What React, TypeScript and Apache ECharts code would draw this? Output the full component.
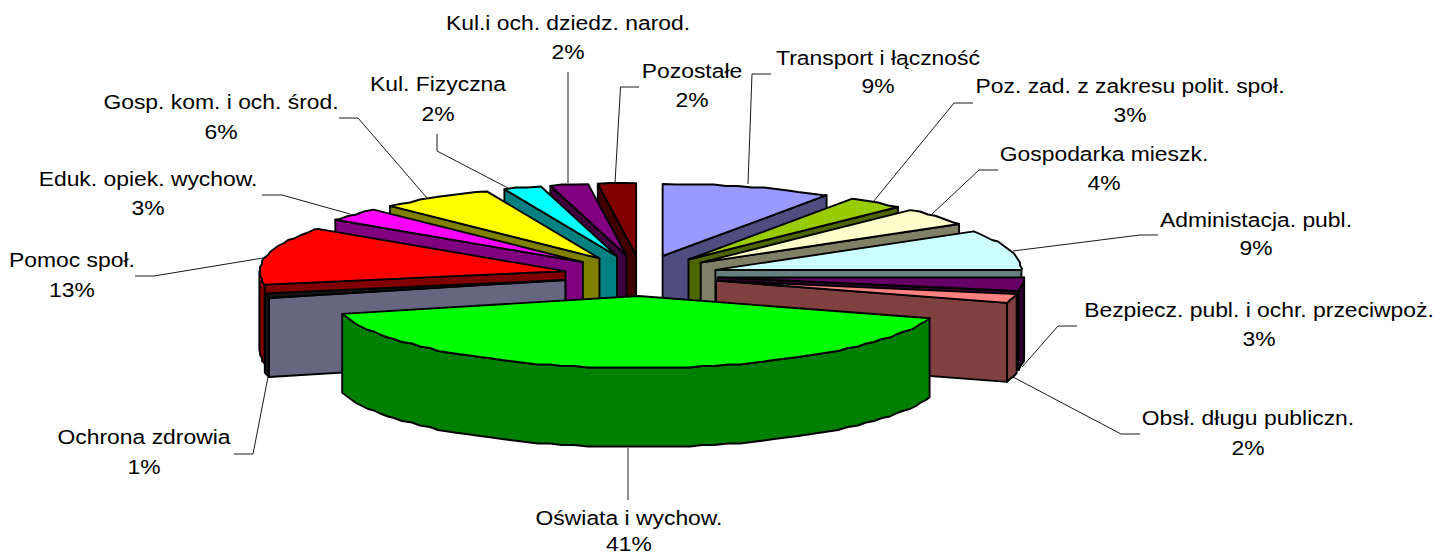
import React, { useEffect, useRef } from "react";
import * as echarts from "echarts";

const names = [
  "Transport i łączność",
  "Poz. zad. z zakresu polit. społ.",
  "Gospodarka mieszk.",
  "Administacja. publ.",
  "Bezpiecz. publ. i ochr. przeciwpoż.",
  "Obsł. długu publiczn.",
  "Oświata i wychow.",
  "Ochrona zdrowia",
  "Pomoc społ.",
  "Eduk. opiek. wychow.",
  "Gosp. kom. i och. środ.",
  "Kul. Fizyczna",
  "Kul.i och. dziedz. narod.",
  "Pozostałe",
];
const values = [9, 3, 4, 9, 3, 2, 41, 1, 13, 3, 6, 2, 2, 2];
const topColors = ["#9999FF", "#99CC00", "#FFFFCC", "#CCFFFF", "#660066", "#FF8080", "#00FF00", "#141414", "#FF0000", "#FF00FF", "#FFFF00", "#00FFFF", "#800080", "#800000"];
const wallColors = ["#4D4D80", "#4D6600", "#808066", "#668080", "#330033", "#804040", "#008000", "#666680", "#800000", "#800080", "#808000", "#008080", "#400040", "#400000"];
const outerColors = ["#4D4D80", "#4D6600", "#808066", "#668080", "#330033", "#804040", "#008000", "#141414", "#800000", "#800080", "#808000", "#008080", "#400040", "#400000"];
const drawOrder = [13, 12, 11, 10, 9, 8, 7, 0, 1, 2, 3, 4, 5, 6];

// [label centre x, name line y, percent line y] per slice
const labelPos = [
  [878, 57.5, 86], [1130, 85.7, 114.7], [1104, 154, 183], [1256, 220, 248], [1259, 309.6, 339], [1248, 418, 447.5], [629, 518, 544],
  [144, 436.7, 467], [72, 260, 289.5], [148, 179, 207.5], [221, 101.7, 131.5], [438, 84, 114], [568, 22.5, 52], [692, 70.5, 100],
];
// leader polylines per slice
const leaders = [
  [[748, 184], [752, 74], [771, 74]],
  [[873, 202], [954, 103], [973, 103]],
  [[932, 214], [979, 170], [998, 170]],
  [[1013, 251], [1140, 235], [1158, 235]],
  [[1022, 367], [1058, 326], [1077, 326]],
  [[1013, 377], [1121, 434], [1140, 434]],
  [[628, 448], [628, 500]],
  [[268, 377], [253, 454], [234, 454]],
  [[263, 258], [154, 276], [135, 276]],
  [[350, 214], [282, 195], [262, 195]],
  [[427, 198], [358, 118], [339, 118]],
  [[508, 188], [437, 151], [437, 134]],
  [[568, 183], [568, 72]],
  [[615, 183], [620.5, 87], [639, 87]],
];

const CX = 641, CY = 275.6, RX = 306, RY = 72, EX = 77.5, EY = 20.4, DEPTH = 79;
const total = values.reduce((a, b) => a + b, 0);
const rad = (d: number) => (d * Math.PI) / 180;

function App() {
  const ref = useRef<HTMLDivElement>(null);
  useEffect(() => {
    const chart = echarts.init(ref.current!, undefined, { renderer: "svg" });
    const spans: number[][] = [];
    let acc = 0;
    values.forEach((v) => {
      const a0 = (acc / total) * 360;
      acc += v;
      spans.push([a0, (acc / total) * 360]);
    });
    const renderItem = (params: any) => {
      const i = drawOrder[params.dataIndex];
      const [a0, a1] = spans[i];
      const mid = rad((a0 + a1) / 2);
      const tx = CX + EX * Math.sin(mid);
      const ty = CY - EY * Math.cos(mid);
      const pt = (deg: number) => [tx + RX * Math.sin(rad(deg)), ty - RY * Math.cos(rad(deg))];
      const arc = (s: number, e: number) => {
        const pts: number[][] = [pt(s)];
        const step = 2.4;
        let d = Math.ceil(s / step + 0.3) * step;
        for (; d < e - 0.5; d += step) {
          const p = pt(d);
          pts.push([Math.round(p[0] / 2) * 2, Math.round(p[1] / 1.5) * 1.5]);
        }
        pts.push(pt(e));
        return pts;
      };
      const down = (p: number[]) => [p[0], p[1] + DEPTH];
      const style = (fill: string) => ({ fill, stroke: "#000", lineWidth: 1.9, lineJoin: "round" });
      const children: any[] = [];
      const poly = (pts: number[][], fill: string) =>
        children.push({ type: "polygon", shape: { points: pts }, style: style(fill) });
      const tip = [tx, ty];
      if (a1 <= 180) {
        const e = pt(a1);
        poly([tip, e, down(e), down(tip)], wallColors[i]);
      }
      if (a0 >= 180) {
        const e = pt(a0);
        poly([tip, e, down(e), down(tip)], wallColors[i]);
      }
      const oa = Math.max(a0, 90), ob = Math.min(a1, 270);
      if (ob > oa) {
        const top = arc(oa, ob);
        poly([...top, ...top.slice().reverse().map(down)], outerColors[i]);
      }
      poly([tip, ...arc(a0, a1)], topColors[i]);
      return { type: "group", children };
    };
    const graphics: any[] = [];
    const textEl = (text: string, x: number, y: number) => ({
      type: "text",
      silent: true,
      z: 11,
      x,
      y,
      scaleX: 1.09,
      style: {
        text,
        align: "center",
        verticalAlign: "middle",
        fontFamily: "Liberation Sans",
        fontSize: 21,
        fill: "#000",
      },
    });
    names.forEach((n, i) => {
      graphics.push({
        type: "polyline",
        silent: true,
        z: 10,
        shape: { points: leaders[i] },
        style: { fill: "none", stroke: "#1a1a1a", lineWidth: 1 },
      });
      graphics.push(textEl(n, labelPos[i][0], labelPos[i][1]));
      graphics.push(textEl(`${values[i]}%`, labelPos[i][0], labelPos[i][2]));
    });
    chart.setOption({
      animation: false,
      backgroundColor: "#fff",
      graphic: { elements: graphics },
      series: [
        {
          type: "custom",
          coordinateSystem: "none",
          silent: true,
          clip: false,
          renderItem,
          data: drawOrder.map((i) => ({ name: names[i], value: values[i] })),
        },
      ],
    });
    return () => chart.dispose();
  }, []);
  return <div ref={ref} style={{ position: "absolute", left: 0, top: 0, width: 1441, height: 555 }} />;
}

export default App;
